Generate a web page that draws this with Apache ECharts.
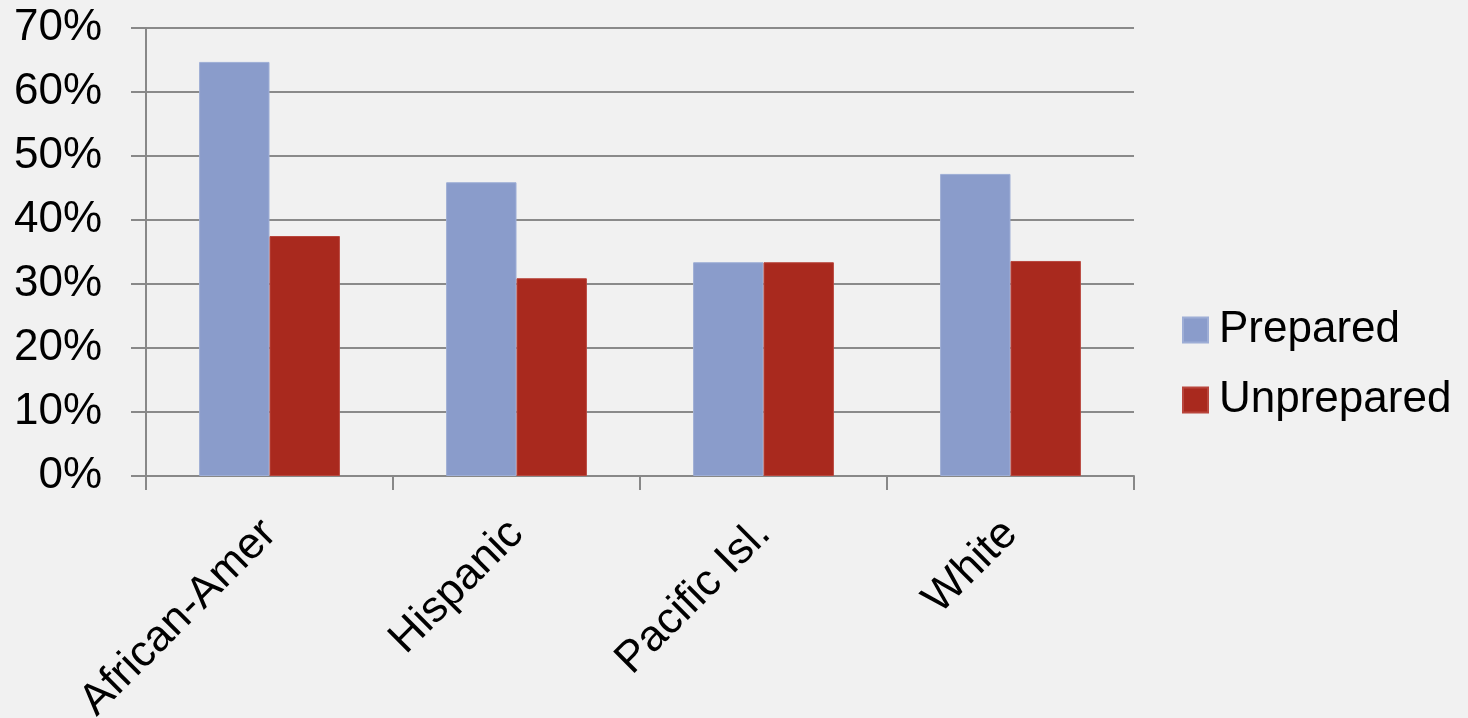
<!DOCTYPE html>
<html>
<head>
<meta charset="utf-8">
<script src="https://cdn.jsdelivr.net/npm/echarts@6/dist/echarts.min.js"></script>
<style>
html,body{margin:0;padding:0;background:#f1f1f1;}
#chart{width:1468px;height:718px;}
</style>
</head>
<body>
<div id="chart"></div>
<script>
const categories = ['African-Amer', 'Hispanic', 'Pacific Isl.', 'White'];
const prepared = [64.7, 45.9, 33.4, 47.2];
const unprepared = [37.5, 30.9, 33.4, 33.6];
const seriesNames = ['Prepared', 'Unprepared'];

const chart = echarts.init(document.getElementById('chart'), null, {renderer: 'canvas'});
const font = '"Liberation Sans", Arial, sans-serif';
chart.setOption({
  backgroundColor: '#f1f1f1',
  animation: false,
  grid: {left: 146, right: 334, top: 28, bottom: 242, containLabel: false, outerBoundsMode: 'none'},
  legend: {
    orient: 'vertical',
    left: 1182,
    top: 308,
    padding: 0,
    itemWidth: 25,
    itemHeight: 25,
    itemGap: 26,
    icon: 'rect',
    data: seriesNames,
    textStyle: {fontFamily: font, fontSize: 44, color: '#000', lineHeight: 44, padding: [0, 0, 0, 6]}
  },
  xAxis: {
    type: 'category',
    data: categories,
    axisLine: {show: true, lineStyle: {color: '#888', width: 2}},
    axisTick: {show: true, length: 14, interval: 0, lineStyle: {color: '#888', width: 2}},
    axisLabel: {rotate: 45, interval: 0, margin: 51, fontFamily: font, fontSize: 44, color: '#000'},
    splitLine: {show: false}
  },
  yAxis: {
    type: 'value',
    min: 0,
    max: 70,
    interval: 10,
    axisLine: {show: true, lineStyle: {color: '#888', width: 2}},
    axisTick: {show: true, length: 15, lineStyle: {color: '#888', width: 2}},
    axisLabel: {margin: 44, fontFamily: font, fontSize: 44, color: '#000', formatter: v => v + '%'},
    splitLine: {show: true, lineStyle: {color: '#8a8a8a', width: 2}}
  },
  series: [
    {name: seriesNames[0], type: 'bar', data: prepared, barGap: '0%', barCategoryGap: '43%',
     itemStyle: {color: '#8a9ccb', borderColor: '#9eaed6', borderWidth: 1}},
    {name: seriesNames[1], type: 'bar', data: unprepared, barGap: '0%', barCategoryGap: '43%',
     itemStyle: {color: '#a9291e', borderColor: '#b9463d', borderWidth: 1}}
  ]
});
</script>
</body>
</html>
